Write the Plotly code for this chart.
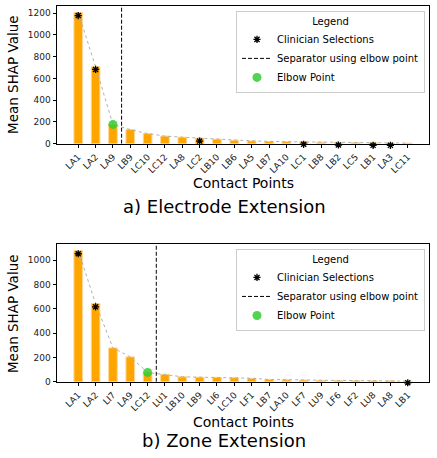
import plotly.graph_objects as go

# ---------------- data ----------------
cats_a = ["LA1", "LA2", "LA9", "LB9", "LC10", "LC12", "LA8", "LC2", "LB10", "LB6",
          "LA5", "LB7", "LA10", "LC1", "LB8", "LB2", "LC5", "LB1", "LA3", "LC11"]
vals_a = [1205, 707, 177, 130, 93, 70, 60, 50, 42, 32,
          26, 21, 19, 16, 14, 12, 10, 8, 7, 5]
stars_a_cats = ["LA1", "LA2", "LC2", "LC1", "LB2", "LB1", "LA3"]
stars_a_vals = [1177, 682, 24, -5, -12, -15, -15]
elbow_a = "LA9"

cats_b = ["LA1", "LA2", "LI7", "LA9", "LC12", "LU1", "LB10", "LB9", "LI6", "LC10",
          "LF1", "LB7", "LA10", "LF7", "LU9", "LF6", "LF2", "LU8", "LA8", "LB1"]
vals_b = [1080, 644, 279, 205, 77, 62, 41, 38, 37, 34,
          29, 19, 16, 14, 12, 11, 10, 9, 8, 5]
stars_b_cats = ["LA1", "LA2", "LB1"]
stars_b_vals = [1054, 617, -8]
elbow_b = "LC12"

yticks_a = [0, 200, 400, 600, 800, 1000, 1200]
yticks_b = [0, 200, 400, 600, 800, 1000]

FONT = "DejaVu Sans"
W, H = 437, 458
PAD = 15  # px of extra room below the axis for the selection markers

fig = go.Figure()


def add_panel(cats, vals, star_cats, star_vals, elbow, xa, ya, ya_star, legend):
    idx = list(range(len(cats)))
    ymax = max(vals) * 1.05
    fig.add_trace(go.Bar(x=idx, y=vals, width=0.5, xaxis=xa, yaxis=ya,
                         marker=dict(color="#FFA500",
                                     line=dict(color="rgba(255,215,150,1)", width=1)),
                         showlegend=False, hoverinfo="skip"))
    fig.add_trace(go.Scatter(x=idx, y=vals, mode="lines", xaxis=xa, yaxis=ya,
                             line=dict(color="#b0b0b0", dash="dot", width=1),
                             showlegend=False, hoverinfo="skip"))
    e = cats.index(elbow)
    fig.add_trace(go.Scatter(x=[e + 0.5, e + 0.5], y=[0, ymax], mode="lines",
                             xaxis=xa, yaxis=ya, name="Separator using elbow point",
                             legend=legend, legendrank=2,
                             line=dict(color="black", dash="4px,2px", width=1)))
    fig.add_trace(go.Scatter(x=[e], y=[vals[e]], mode="markers", xaxis=xa, yaxis=ya,
                             name="Elbow Point", legend=legend, legendrank=3,
                             marker=dict(color="limegreen", size=9, opacity=0.85)))
    sx = [cats.index(c) for c in star_cats]
    fig.add_trace(go.Scatter(x=sx, y=star_vals, mode="markers", xaxis=xa, yaxis=ya_star,
                             name="Clinician Selections", legend=legend, legendrank=1,
                             marker=dict(symbol="asterisk-open", size=6, color="black",
                                         line=dict(color="black", width=1.3)),
                             cliponaxis=False))
    return idx, ymax


idx_a, ymax_a = add_panel(cats_a, vals_a, stars_a_cats, stars_a_vals, elbow_a, "x", "y", "y3", "legend")
idx_b, ymax_b = add_panel(cats_b, vals_b, stars_b_cats, stars_b_vals, elbow_b, "x2", "y2", "y4", "legend2")

n = len(cats_a)
xr = [-0.25 - 0.05 * (n - 0.5), (n - 1) + 0.25 + 0.05 * (n - 0.5)]

axis_common = dict(showline=True, mirror=True, linecolor="black", linewidth=1,
                   ticks="outside", ticklen=3.5, tickwidth=1, tickcolor="black",
                   showgrid=False, zeroline=False,
                   tickfont=dict(family=FONT, size=9, color="#222222"))

xdom = [57 / W, 429 / W]
top_a, bot_a = 6.0, 145.3
top_b, bot_b = 246.7, 386.0
upp_a = ymax_a / (bot_a - top_a)
upp_b = ymax_b / (bot_b - top_b)

fig.update_layout(
    width=W, height=H, margin=dict(l=0, r=0, t=0, b=0),
    paper_bgcolor="white", plot_bgcolor="rgba(0,0,0,0)",
    font=dict(family=FONT, color="black"),
    xaxis=dict(domain=xdom, anchor="y", range=xr, tickvals=idx_a, ticktext=cats_a,
               tickangle=-45, **axis_common),
    yaxis=dict(domain=[1 - bot_a / H, 1 - top_a / H], anchor="x", range=[0, ymax_a],
               tickvals=yticks_a, **axis_common),
    xaxis2=dict(domain=xdom, anchor="y2", range=xr, tickvals=idx_b, ticktext=cats_b,
                tickangle=-45, **axis_common),
    yaxis2=dict(domain=[1 - bot_b / H, 1 - top_b / H], anchor="x2", range=[0, ymax_b],
                tickvals=yticks_b, **axis_common),
    yaxis3=dict(domain=[1 - (bot_a + PAD) / H, 1 - top_a / H], anchor="x",
                range=[-PAD * upp_a, ymax_a], visible=False, showgrid=False, zeroline=False),
    yaxis4=dict(domain=[1 - (bot_b + PAD) / H, 1 - top_b / H], anchor="x2",
                range=[-PAD * upp_b, ymax_b], visible=False, showgrid=False, zeroline=False),
    legend=dict(x=425 / W, xanchor="right", y=1 - 11 / H, yanchor="top",
                bgcolor="rgba(255,255,255,0.85)", bordercolor="#cccccc", borderwidth=1,
                font=dict(family=FONT, size=10, color="black"),
                title=dict(text="Legend", side="top center",
                           font=dict(family=FONT, size=10, color="black")),
                tracegroupgap=0, itemwidth=30, traceorder="normal"),
    legend2=dict(x=425 / W, xanchor="right", y=1 - 251.7 / H, yanchor="top",
                 bgcolor="rgba(255,255,255,0.85)", bordercolor="#cccccc", borderwidth=1,
                 font=dict(family=FONT, size=10, color="black"),
                 title=dict(text="Legend", side="top center",
                            font=dict(family=FONT, size=10, color="black")),
                 tracegroupgap=0, itemwidth=30, traceorder="normal"),
    showlegend=True,
)

ann = [
    dict(text="Contact Points", x=243 / W, y=1 - 185 / H, size=14, angle=0),
    dict(text="a) Electrode Extension", x=224 / W, y=1 - 209 / H, size=18, angle=0),
    dict(text="Contact Points", x=243 / W, y=1 - 426.5 / H, size=14, angle=0),
    dict(text="b) Zone Extension", x=224 / W, y=1 - 445 / H, size=18, angle=0),
    dict(text="Mean SHAP Value", x=12.8 / W, y=1 - 75 / H, size=13.5, angle=-90),
    dict(text="Mean SHAP Value", x=12.8 / W, y=1 - 316.7 / H, size=13.5, angle=-90),
]
for a in ann:
    fig.add_annotation(text=a["text"], x=a["x"], y=a["y"], xref="paper", yref="paper",
                       xanchor="center", yanchor="middle", showarrow=False,
                       textangle=a["angle"],
                       font=dict(family=FONT, size=a["size"], color="black"))

fig.write_html("out.html")
